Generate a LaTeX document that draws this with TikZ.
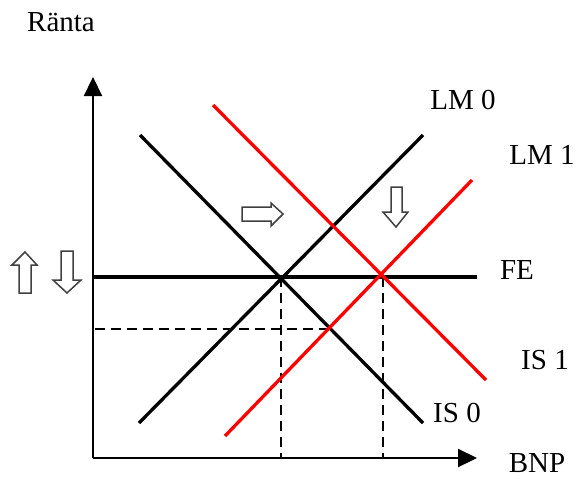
\documentclass[tikz,border=0pt]{standalone}
\usepackage{fontspec}
\setmainfont{Liberation Serif}
\usetikzlibrary{arrows.meta}
\definecolor{shiftred}{HTML}{FF0000}

\begin{document}
\begin{tikzpicture}[x=1pt, y=-1pt,
    curve/.style={line width=3.3pt},
    axis/.style={line width=2.2pt, -{Triangle[width=18pt, length=19pt]}},
    guide/.style={line width=1.4pt, dash pattern=on 10pt off 6pt},
    hollow/.style={draw=black!75, fill=white, line width=1.5pt, line join=miter},
    lab/.style={font=\fontsize{29}{34}\selectfont}]
    \useasboundingbox (0, 0) rectangle (580, 479);
    % axes
    \coordinate (O) at (93, 458);
    \draw[axis] (O) -- (93, 77);
    \draw[axis] (O) -- (477, 458);
    % equilibrium points
    \coordinate (E0) at (281, 277);
    \coordinate (E1) at (383, 277);
    \coordinate (E2) at (329, 329);
    % dashed guides
    \draw[guide] (E0) -- (E0 |- O);
    \draw[guide] (E1) -- (E1 |- O);
    \draw[guide] (E2) -- (E2 -| O);
    % FE
    \draw[curve] (93, 277) -- (477, 277);
    % IS and LM curves
    \draw[curve] (140, 135) -- (423, 423);
    \draw[curve] (139, 423) -- (423, 135);
    \draw[curve, shiftred] (213, 105) -- (486, 380);
    \draw[curve, shiftred] (225, 436) -- (472, 180);
    % hollow shift arrows
    \draw[hollow] (242, 207) -- (271, 207) -- (271, 203) -- (283, 214)
        -- (271, 226) -- (271, 221) -- (242, 221) -- cycle;
    \draw[hollow] (391, 187) -- (402, 187) -- (402, 212) -- (408, 212)
        -- (396, 227) -- (383, 212) -- (391, 212) -- cycle;
    \draw[hollow] (19, 293) -- (31, 293) -- (31, 265) -- (37, 265)
        -- (25, 252) -- (12, 265) -- (19, 265) -- cycle;
    \draw[hollow] (61, 251) -- (73, 251) -- (73, 280) -- (81, 280)
        -- (67, 293) -- (53, 280) -- (61, 280) -- cycle;
    % labels
    \node[lab] (ranta) at (61, 22) {Ränta};
    \node[lab] (lm0) at (463, 100) {LM 0};
    \node[lab] (lm1) at (542, 155) {LM 1};
    \node[lab] (fe) at (517, 270) {FE};
    \node[lab] (is1) at (545, 360) {IS 1};
    \node[lab] (is0) at (457, 413) {IS 0};
    \node[lab] (bnp) at (537, 463) {BNP};
\end{tikzpicture}
\end{document}
